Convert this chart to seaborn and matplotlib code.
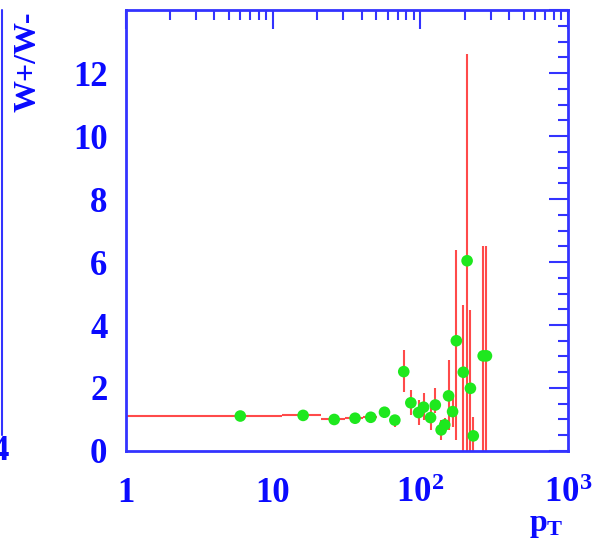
import numpy as np
import pandas as pd
import seaborn as sns
import matplotlib.pyplot as plt
from matplotlib.ticker import FixedLocator, MultipleLocator, LogLocator, NullFormatter
from matplotlib.lines import Line2D

# W+/W- ratio vs pT
pt = [6, 16, 26, 36, 46, 57, 67, 77, 86, 97, 105, 117,
      126, 138, 146, 155, 165, 175, 195, 207, 218, 228, 266, 280]
ratio = [1.11, 1.13, 1.00, 1.04, 1.07, 1.23, 0.98, 2.52, 1.53, 1.22, 1.39, 1.06,
         1.46, 0.67, 0.83, 1.75, 1.25, 3.50, 2.50, 6.04, 1.99, 0.48, 3.02, 3.02]
err_up = [0.04, 0.05, 0.05, 0.05, 0.06, 0.18, 0.16, 0.68, 0.41, 0.40, 0.44, 0.40,
          0.53, 0.31, 0.22, 1.14, 0.46, 2.88, 2.13, 6.56, 2.49, 0.61, 3.48, 3.48]
err_dn = [0.04, 0.05, 0.05, 0.05, 0.06, 0.18, 0.23, 0.64, 0.39, 0.39, 0.41, 0.39,
          0.26, 0.32, 0.26, 1.08, 0.49, 3.15, 2.50, 6.04, 1.99, 0.48, 3.02, 3.02]
bin_lo = [5.5, 4.5] + [5] * 22
bin_hi = [5.5, 5.0] + [5] * 22

BLUE = '#0a0aff'
FRAME = '#3333ff'
RED = '#ff4a4a'
GREEN = '#1ee81e'

sns.set_theme(style='white')
plt.rcParams['font.family'] = ['Liberation Serif', 'DejaVu Serif']
plt.rcParams['font.weight'] = 'bold'
plt.rcParams['mathtext.fontset'] = 'custom'
plt.rcParams['mathtext.rm'] = 'Liberation Serif:bold'
plt.rcParams['mathtext.it'] = 'Liberation Serif:bold'
plt.rcParams['mathtext.bf'] = 'Liberation Serif:bold'

df = pd.DataFrame({'pt': pt, 'ratio': ratio})

fig = plt.figure(figsize=(6.02, 5.41), dpi=100)
ax = fig.add_axes([0.2085, 0.1664, 0.735, 0.815])

ax.errorbar(pt, ratio, yerr=[err_dn, err_up], xerr=[bin_lo, bin_hi],
            fmt='none', ecolor=RED, elinewidth=1.5, capsize=0, zorder=2)
sns.scatterplot(data=df, x='pt', y='ratio', ax=ax, color=GREEN, s=70,
                edgecolor='none', zorder=3, legend=False)

ax.set_xscale('log')
ax.set_xlim(1, 1000)
ax.set_ylim(0, 14)
ax.set_xlabel('')
ax.set_ylabel('')

ax.xaxis.set_major_locator(FixedLocator([1, 10, 100, 1000]))
ax.set_xticklabels(['1', '10', r'$10^{2}$', r'$10^{3}$'])
ax.xaxis.set_minor_locator(LogLocator(base=10, subs=np.arange(2, 10)))
ax.xaxis.set_minor_formatter(NullFormatter())
ax.yaxis.set_major_locator(FixedLocator([0, 2, 4, 6, 8, 10, 12, 14]))
ax.set_yticklabels(['0', '2', '4', '6', '8', '10', '12', ''])
ax.yaxis.set_minor_locator(MultipleLocator(0.5))

for s in ax.spines.values():
    s.set_color(FRAME)
    s.set_linewidth(2)
ax.tick_params(which='both', direction='in', colors=FRAME, top=True, right=True,
               width=1.5)
ax.tick_params(which='major', length=14)
ax.tick_params(which='minor', length=7)
ax.tick_params(axis='x', which='major', labelsize=25, pad=19, labelcolor=BLUE)
ax.tick_params(axis='y', which='major', labelsize=25, pad=13, labelcolor=BLUE)

ax.text(0.99, -0.135, r'$p_{T}$', transform=ax.transAxes, ha='right', va='top',
        fontsize=23, color=BLUE)
fig.text(28 / 602, 1 - 11 / 541, 'W+/W-', rotation=90, ha='center', va='top',
         fontsize=23, color=BLUE, fontweight='bold')

# fragment of neighbouring panel at left edge
fig.add_artist(Line2D([1.5 / 602, 1.5 / 602], [1 - 10 / 541, 1 - 435 / 541],
                      color=FRAME, lw=1.5, transform=fig.transFigure))
fig.text(0.0, 1 - 452 / 541, '4', ha='center', va='center', fontsize=25,
         color=BLUE, fontweight='bold')

fig.savefig('out.png', dpi=100)
plt.close()
